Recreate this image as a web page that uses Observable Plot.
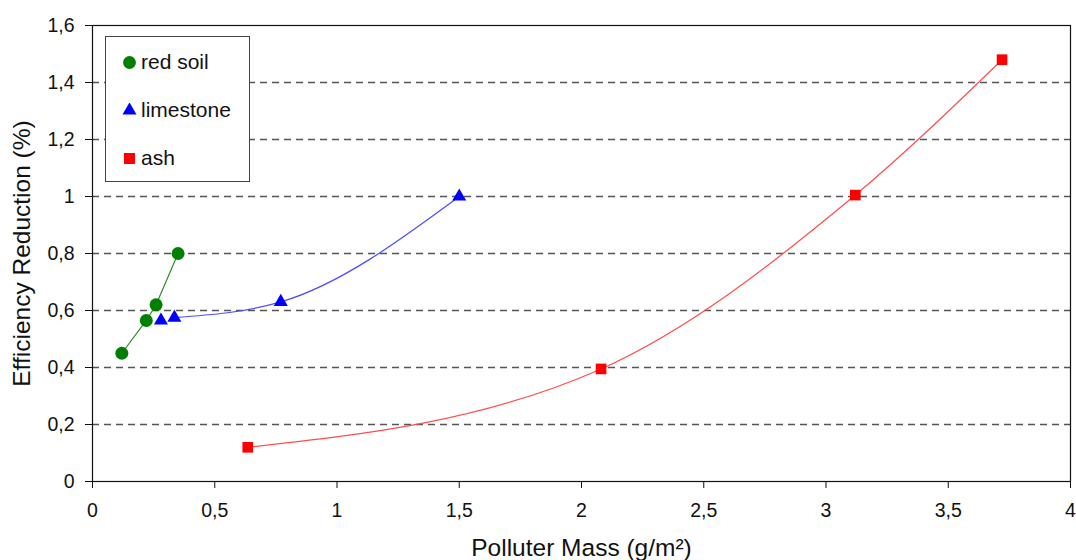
<!DOCTYPE html>
<html>
<head>
<meta charset="utf-8">
<script src="https://cdn.jsdelivr.net/npm/d3@7"></script>
<script src="https://cdn.jsdelivr.net/npm/@observablehq/plot@0.6"></script>
<style>
  html, body { margin: 0; padding: 0; background: #fff; }
  #wrap { position: relative; width: 1076px; height: 560px; font-family: "Liberation Sans", Arial, sans-serif; }
  #legend { position: absolute; left: 105px; top: 36px; width: 145px; height: 146px; border: 1.5px solid #444; background: #fff; box-sizing: border-box; }
  .item { position: absolute; left: 16px; font-size: 21px; color: #111; display: flex; align-items: center; line-height: 22px; }
  .item svg { margin-right: 4px; }
  #chart g[aria-label="x-axis tick label"], #chart g[aria-label="x-axis tick label"] text,
  #chart g[aria-label="y-axis tick label"], #chart g[aria-label="y-axis tick label"] text { font-size: 19.5px !important; }
  #chart g[aria-label="x-axis label"], #chart g[aria-label="x-axis label"] text,
  #chart g[aria-label="y-axis label"], #chart g[aria-label="y-axis label"] text { font-size: 24.5px !important; }
</style>
</head>
<body>
<div id="wrap">
  <div id="chart"></div>
  <div id="legend"></div>
</div>
<script>
// Data
const redSoilMass = [0.12, 0.22, 0.26, 0.35];
const redSoilRed  = [0.45, 0.565, 0.62, 0.80];
const limeMass = [0.28, 0.335, 0.77, 1.50];
const limeRed  = [0.565, 0.575, 0.63, 1.00];
const ashMass = [0.635, 2.08, 3.12, 3.72];
const ashRed  = [0.12, 0.395, 1.005, 1.48];

const xTicks = [0, 0.5, 1, 1.5, 2, 2.5, 3, 3.5, 4];
const yTicks = [0, 0.2, 0.4, 0.6, 0.8, 1, 1.2, 1.4, 1.6];
const gridY = [0.2, 0.4, 0.6, 0.8, 1, 1.2, 1.4];

const series = [
  {name: "red soil", symbol: "circle", fill: "#008000", line: "#2e8b2e", r: 6.5},
  {name: "limestone", symbol: "triangle", fill: "#0000ff", line: "#4d4dff", r: 5.2},
  {name: "ash", symbol: "square", fill: "#ff0000", line: "#ff4d4d", r: 6}
];

const toRows = (xs, ys) => xs.map((x, i) => ({x, y: ys[i]}));
const redSoil = toRows(redSoilMass, redSoilRed);
const lime = toRows(limeMass, limeRed);
const ash = toRows(ashMass, ashRed);

const fmt = d => String(d).replace(".", ",");

const chart = Plot.plot({
  width: 1076,
  height: 560,
  marginLeft: 92,
  marginRight: 6,
  marginTop: 25,
  marginBottom: 79,
  style: {fontFamily: "'Liberation Sans', Arial, sans-serif", fontSize: "19px", color: "#111", background: "#fff"},
  x: {domain: [0, 4]},
  y: {domain: [0, 1.6]},
  marks: [
    Plot.ruleY(gridY, {stroke: "#555", strokeWidth: 1.3, strokeDasharray: "7,5"}),
    Plot.frame({stroke: "#111", strokeWidth: 1.2}),
    Plot.axisX({ticks: xTicks, tickFormat: fmt, tickSize: 7, tickPadding: 15, stroke: "#111",
      label: "Polluter Mass (g/m²)", labelAnchor: "center", labelArrow: "none", labelOffset: 74}),
    Plot.axisY({ticks: yTicks, tickFormat: fmt, tickSize: 7, tickPadding: 11, stroke: "#111",
      label: "Efficiency Reduction (%)", labelAnchor: "center", labelArrow: "none", labelOffset: 80}),
    Plot.line(redSoil, {x: "x", y: "y", stroke: series[0].line, strokeWidth: 1.2}),
    Plot.line(lime.slice(1), {x: "x", y: "y", stroke: series[1].line, strokeWidth: 1.2, curve: "monotone-x"}),
    Plot.line(ash, {x: "x", y: "y", stroke: series[2].line, strokeWidth: 1.2, curve: "monotone-x"}),
    Plot.dot(redSoil, {x: "x", y: "y", symbol: series[0].symbol, fill: series[0].fill, r: series[0].r}),
    Plot.dot(lime, {x: "x", y: "y", symbol: series[1].symbol, fill: series[1].fill, r: series[1].r}),
    Plot.dot(ash, {x: "x", y: "y", symbol: series[2].symbol, fill: series[2].fill, r: series[2].r})
  ]
});
document.getElementById("chart").appendChild(chart);

// Legend
const legend = document.getElementById("legend");
const symPaths = {
  circle: d3.symbol(d3.symbolCircle, 130)(),
  triangle: d3.symbol(d3.symbolTriangle, 85)(),
  square: d3.symbol(d3.symbolSquare, 120)()
};
series.forEach((s, i) => {
  const div = document.createElement("div");
  div.className = "item";
  div.style.top = (14 + i * 48) + "px";
  div.innerHTML = `<svg width="15" height="15" viewBox="-7.5 -7.5 15 15"><path d="${symPaths[s.symbol]}" fill="${s.fill}"/></svg><span>${s.name}</span>`;
  legend.appendChild(div);
});
</script>
</body>
</html>
